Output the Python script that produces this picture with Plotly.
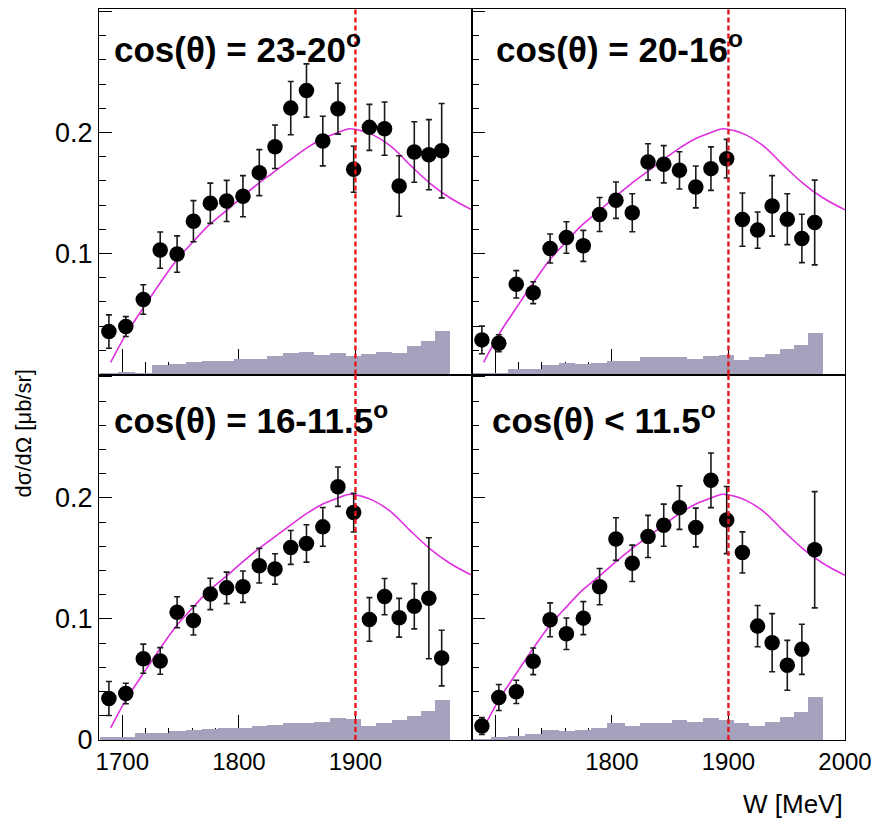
import plotly.graph_objects as go

# Bin centres (W, MeV) of the measured points and the bin edges of the systematic histogram
W = [1688.5, 1703, 1718, 1732.5, 1747, 1761, 1775.5, 1789.5, 1803.5, 1817.5, 1831,
     1844.5, 1858, 1872, 1885, 1898.5, 1912, 1925, 1937.5, 1950.5, 1963, 1974]
W_EDGES = [1681, 1696, 1711, 1725.5, 1740, 1754.5, 1768.5, 1782.5, 1796, 1811, 1824.5,
           1838, 1851.5, 1864.5, 1878, 1891.5, 1905, 1918, 1931, 1944, 1956, 1968, 1981]

PANEL_LABELS = ["cos(θ) = 23-20<sup>o</sup>", "cos(θ) = 20-16<sup>o</sup>",
                "cos(θ) = 16-11.5<sup>o</sup>", "cos(θ) < 11.5<sup>o</sup>"]

# differential cross sections (μb/sr) and statistical errors
XS_23_20 = [0.0355, 0.0396, 0.062, 0.1028, 0.0995, 0.1267, 0.1415, 0.1434, 0.1473, 0.1668, 0.1882,
            0.2201, 0.2347, 0.1929, 0.2196, 0.1696, 0.2042, 0.2031, 0.1558, 0.1838, 0.1816, 0.1849]
ERR_23_20 = [0.0138, 0.0082, 0.0122, 0.015, 0.015, 0.017, 0.0166, 0.017, 0.017, 0.019, 0.018,
             0.022, 0.022, 0.0205, 0.021, 0.019, 0.019, 0.022, 0.025, 0.025, 0.029, 0.039]

XS_20_16 = [0.0286, 0.0258, 0.0745, 0.0676, 0.1041, 0.1132, 0.1063, 0.1322, 0.144, 0.1336, 0.1756,
            0.1737, 0.1687, 0.155, 0.1701, 0.1783, 0.128, 0.1193, 0.1393, 0.1283, 0.1124, 0.1256]
ERR_20_16 = [0.0114, 0.007, 0.0113, 0.009, 0.012, 0.013, 0.0128, 0.014, 0.015, 0.0157, 0.015,
             0.0154, 0.0154, 0.0173, 0.018, 0.016, 0.022, 0.015, 0.025, 0.021, 0.020, 0.035]

XS_16_115 = [0.0343, 0.0384, 0.0672, 0.0653, 0.1056, 0.0988, 0.1207, 0.1257, 0.1267, 0.144, 0.1413,
             0.1591, 0.1624, 0.1761, 0.2093, 0.1879, 0.0996, 0.1185, 0.101, 0.1105, 0.1171, 0.0677]
ERR_16_115 = [0.014, 0.0085, 0.012, 0.011, 0.0128, 0.012, 0.013, 0.013, 0.013, 0.0143, 0.0126,
              0.014, 0.0154, 0.016, 0.0163, 0.016, 0.018, 0.015, 0.016, 0.0187, 0.050, 0.023]

XS_LT_115 = [0.0115, 0.0351, 0.0398, 0.065, 0.0993, 0.0878, 0.1007, 0.1267, 0.166, 0.146, 0.1682,
             0.1775, 0.192, 0.1756, 0.2146, 0.1817, 0.155, 0.0941, 0.0804, 0.0617, 0.0749, 0.1572]
ERR_LT_115 = [0.007, 0.0107, 0.0096, 0.011, 0.014, 0.013, 0.0136, 0.015, 0.0176, 0.015, 0.0174,
              0.0174, 0.018, 0.016, 0.0226, 0.0277, 0.017, 0.017, 0.024, 0.0206, 0.0207, 0.048]

# systematic uncertainty histograms
SYS_23_20 = [0.0014, 0.0022, 0.0014, 0.0082, 0.0088, 0.0102, 0.0115, 0.0115, 0.0124, 0.0129, 0.0151,
             0.0179, 0.0187, 0.0162, 0.0179, 0.0151, 0.017, 0.0187, 0.0176, 0.0234, 0.0275, 0.0357]
SYS_20_16 = [0.0014, 0.0014, 0.0049, 0.0049, 0.0082, 0.0096, 0.0088, 0.0096, 0.0115, 0.0115, 0.0146,
             0.0146, 0.0146, 0.0129, 0.0154, 0.0165, 0.0118, 0.0146, 0.0173, 0.0212, 0.0242, 0.0343]
SYS_16_115 = [0.0033, 0.0033, 0.006, 0.006, 0.008, 0.0088, 0.0096, 0.0107, 0.0107, 0.0123, 0.0129,
              0.0143, 0.0148, 0.0156, 0.0189, 0.0176, 0.0121, 0.0148, 0.017, 0.0203, 0.0247, 0.0335]
SYS_LT_115 = [0.0005, 0.0033, 0.0038, 0.0055, 0.0085, 0.008, 0.0088, 0.0107, 0.0143, 0.0123, 0.0148,
              0.0148, 0.017, 0.0156, 0.0189, 0.017, 0.0148, 0.0123, 0.0156, 0.0192, 0.0233, 0.0357]

# model curve (same in every panel)
FIT_W = [1690, 1703, 1718, 1732, 1747, 1761, 1775, 1790, 1803, 1817, 1831, 1845,
         1858, 1872, 1885, 1895, 1905, 1915, 1930, 1947, 1964, 1981, 2000]
FIT_XS = [0.010, 0.033, 0.055, 0.075, 0.095, 0.110, 0.124, 0.136, 0.147, 0.158, 0.168, 0.178,
          0.187, 0.195, 0.200, 0.203, 0.2015, 0.198, 0.189, 0.173, 0.158, 0.146, 0.136]

W_MARK = 1900
X_RANGE = [1680, 2000]
Y_RANGE = [0, 0.302]

panels = [
    (XS_23_20, ERR_23_20, SYS_23_20),
    (XS_20_16, ERR_20_16, SYS_20_16),
    (XS_16_115, ERR_16_115, SYS_16_115),
    (XS_LT_115, ERR_LT_115, SYS_LT_115),
]

FONT = "Liberation Sans, Arial, Helvetica, sans-serif"
HIST_COLOR = "#a5a2bd"
FIT_COLOR = "#e02fe0"
MARK_COLOR = "#e8141c"

fig = go.Figure()

bin_widths = [b - a for a, b in zip(W_EDGES[:-1], W_EDGES[1:])]
bin_centres = [(a + b) / 2 for a, b in zip(W_EDGES[:-1], W_EDGES[1:])]

for i, (xs, err, sys) in enumerate(panels):
    xa = "x" if i == 0 else f"x{i + 1}"
    ya = "y" if i == 0 else f"y{i + 1}"
    fig.add_trace(go.Bar(x=bin_centres, y=sys, width=bin_widths, marker=dict(color=HIST_COLOR, line=dict(width=0)),
                         xaxis=xa, yaxis=ya, showlegend=False, hoverinfo="skip"))
    fig.add_trace(go.Scatter(x=FIT_W, y=FIT_XS, mode="lines", line=dict(color=FIT_COLOR, width=1.6, shape="spline"),
                             xaxis=xa, yaxis=ya, showlegend=False))
    fig.add_trace(go.Scatter(x=W, y=xs, mode="markers",
                             marker=dict(color="black", size=15.5),
                             error_y=dict(type="data", array=err, color="#1a1a1a", thickness=1.6, width=3),
                             xaxis=xa, yaxis=ya, showlegend=False))

# 2x2 grid without gaps
x_domains = [[0, 0.5], [0.5, 1], [0, 0.5], [0.5, 1]]
y_domains = [[0.5, 1], [0.5, 1], [0, 0.5], [0, 0.5]]

x_ticktext = [["", "", "", ""], ["", "", "", ""], ["1700", "1800", "1900", ""], ["", "1800", "1900", "2000"]]
y_ticktext = [["", "0.1", "0.2", ""], ["", "", "", ""], ["0", "0.1", "0.2", ""], ["", "", "", ""]]

layout = {}
for i in range(4):
    xs_name = "xaxis" if i == 0 else f"xaxis{i + 1}"
    ys_name = "yaxis" if i == 0 else f"yaxis{i + 1}"
    ya = "y" if i == 0 else f"y{i + 1}"
    xa = "x" if i == 0 else f"x{i + 1}"
    layout[xs_name] = dict(
        domain=x_domains[i], anchor=ya, range=X_RANGE,
        tickmode="array", tickvals=[1700, 1800, 1900, 2000], ticktext=x_ticktext[i],
        ticks="inside", ticklen=25, tickwidth=1.2, tickcolor="black",
        minor=dict(tickmode="linear", tick0=1700, dtick=20, ticks="inside", ticklen=12, tickcolor="black", tickwidth=1),
        showline=True, mirror=True, linecolor="black", linewidth=1.2,
        showgrid=False, zeroline=False, layer="below traces",
        tickfont=dict(family=FONT, size=24, color="black"),
    )
    layout[ys_name] = dict(
        domain=y_domains[i], anchor=xa, range=Y_RANGE,
        tickmode="array", tickvals=[0, 0.1, 0.2, 0.3], ticktext=y_ticktext[i],
        ticks="inside", ticklen=13, tickwidth=1.2, tickcolor="black",
        minor=dict(tickmode="linear", tick0=0, dtick=0.02, ticks="inside", ticklen=7, tickcolor="black", tickwidth=1),
        showline=True, mirror=True, linecolor="black", linewidth=1.2,
        showgrid=False, zeroline=False, layer="below traces",
        tickfont=dict(family=FONT, size=27, color="black"),
    )

fig.update_layout(**layout)

shapes = []
annotations = []
label_dx = [0.036, 0.06, 0.036, 0.048]
for i in range(4):
    xa = "x" if i == 0 else f"x{i + 1}"
    ya = "y" if i == 0 else f"y{i + 1}"
    shapes.append(dict(type="line", xref=xa, yref=f"{ya} domain", x0=W_MARK, x1=W_MARK, y0=0, y1=1,
                       line=dict(color=MARK_COLOR, width=2.4, dash="5px,3px"), layer="above"))
    annotations.append(dict(text=f"<b>{PANEL_LABELS[i]}</b>", xref=f"{xa} domain", yref=f"{ya} domain",
                            x=label_dx[i], y=0.895 if i < 2 else 0.88, xanchor="left", yanchor="middle",
                            showarrow=False, font=dict(family=FONT, size=35, color="black")))

annotations.append(dict(text="dσ/dΩ [μb/sr]", xref="paper", yref="paper", x=-0.1, y=0.42,
                        xanchor="center", yanchor="middle", textangle=-90, showarrow=False,
                        font=dict(family=FONT, size=22, color="black")))
annotations.append(dict(text="W [MeV]", xref="paper", yref="paper", x=1.0, y=-0.088,
                        xanchor="right", yanchor="middle", showarrow=False,
                        font=dict(family=FONT, size=26, color="black")))

fig.update_layout(
    width=882, height=828,
    margin=dict(l=99, r=37, t=9, b=88),
    paper_bgcolor="white", plot_bgcolor="white",
    shapes=shapes, annotations=annotations,
    barmode="overlay", bargap=0,
    showlegend=False,
)

fig.write_html("out.html")
